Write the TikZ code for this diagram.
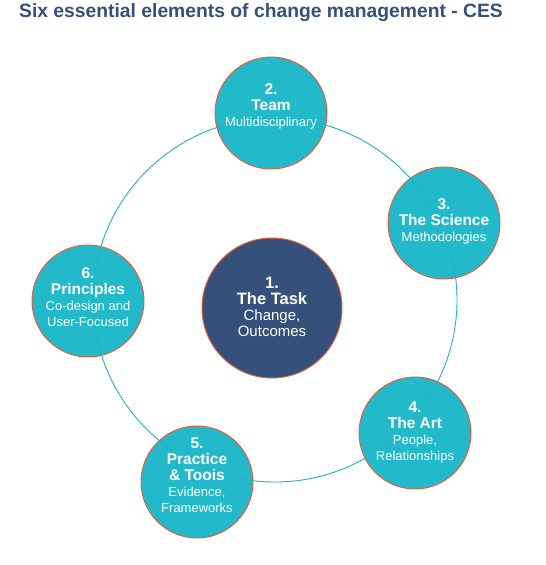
\documentclass[tikz,border=0pt]{standalone}
\usepackage{fontspec}
\setmainfont{Liberation Sans}
\definecolor{cteal}{HTML}{22BACB}
\definecolor{cring}{HTML}{1FB3C4}
\definecolor{corange}{HTML}{E4603A}
\definecolor{cdark}{HTML}{35507A}
\newcommand\cesB{\fontsize{15.5}{18}\selectfont\bfseries}
\newcommand\cesR{\fontsize{13}{15}\selectfont\mdseries}
\newcommand\cesCB{\fontsize{16.5}{19}\selectfont\bfseries}
\newcommand\cesCR{\fontsize{15}{17}\selectfont\mdseries}
\begin{document}
\begin{tikzpicture}[x=1pt,y=1pt,
  bub/.style={circle, draw=corange, line width=1pt, fill=cteal, minimum size=112pt, inner sep=0pt},
  hub/.style={circle, draw=corange, line width=1pt, fill=cdark, minimum size=140pt, inner sep=0pt},
  lbl/.style={text=white, align=center, inner sep=0pt, font=\fontsize{12}{16}\selectfont},
  ring/.style={draw=cring, line width=0.9pt}]
\useasboundingbox (0,0) rectangle (546,-565);
\node[anchor=base, font=\bfseries\fontsize{19.3}{21}\selectfont, text=cdark] (title) at (261,-17) {Six essential elements of change management - CES};
% circles
\node[hub] (c1) at (272,-308) {};
\node[bub] (c2) at (271,-113) {};
\node[bub] (c3) at (444,-223) {};
\node[bub] (c4) at (415,-433) {};
\node[bub] (c5) at (197,-482) {};
\node[bub] (c6) at (88,-301) {};
% ring over circles
\draw[ring] (275,-300) circle[radius=182];
% labels
\node[lbl] (t1) at (c1.center) [yshift=1pt] {\cesCB 1.\\\cesCB The Task\\\cesCR Change,\\\cesCR Outcomes};
\node[lbl] (t2) at (c2.center) [yshift=7pt] {\cesB 2.\\\cesB Team\\\cesR Multidisciplinary};
\node[lbl] (t3) at (c3.center) [yshift=2pt] {\cesB 3.\\\cesB The Science\\\cesR Methodologies};
\node[lbl] (t4) at (c4.center) [yshift=0pt] {\cesB 4.\\\cesB The Art\\\cesR People,\\\cesR Relationships};
\node[lbl] (t5) at (c5.center) [yshift=7pt] {\cesB 5.\\\cesB Practice\\\cesB \& Toois\\\cesR Evidence,\\\cesR Frameworks};
\node[lbl] (t6) at (c6.center) [yshift=4pt] {\cesB 6.\\\cesB Principles\\\cesR Co-design and\\\cesR User-Focused};
\end{tikzpicture}
\end{document}
